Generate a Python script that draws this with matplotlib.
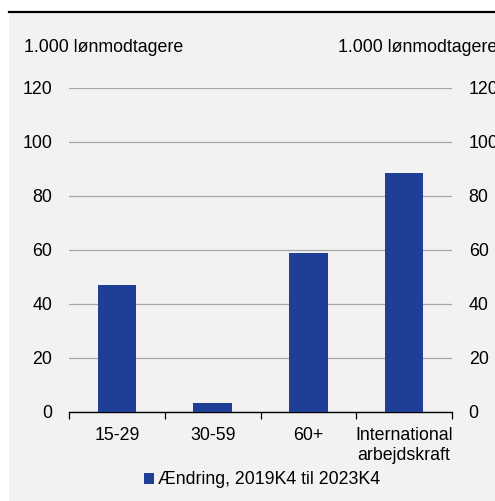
import matplotlib

matplotlib.use("Agg")

import matplotlib.pyplot as plt  # noqa: E402
import numpy as np  # noqa: E402
from matplotlib.patches import Rectangle  # noqa: E402
from matplotlib.lines import Line2D  # noqa: E402

categories = ["15-29", "30-59", "60+", "International\narbejdskraft"]
values = [47.0, 3.4, 59.0, 88.5]
series_label = "Ændring, 2019K4 til 2023K4"
unit_label = "1.000 lønmodtagere"
yticks = [0, 20, 40, 60, 80, 100, 120]

BAR = "#1F3E96"
BG = "#F2F2F2"
plt.rcParams["font.family"] = ["Liberation Sans", "DejaVu Sans"]
FS = 12.8

W, H = 495, 501
fig = plt.figure(figsize=(W / 100, H / 100), dpi=100, facecolor="white")

# grey panel and the black rule under the (cropped) title
fig.patches.append(Rectangle((9 / W, 0), 1 - 9 / W, 1 - 12 / H, transform=fig.transFigure,
                             facecolor=BG, edgecolor="none", zorder=-5))
fig.lines.append(Line2D([9 / W, 1], [1 - 12 / H, 1 - 12 / H], transform=fig.transFigure,
                        color="black", lw=1.6))

left, right = 69 / W, 452 / W
bottom, top = 1 - 412 / H, 1 - 88 / H
ax = fig.add_axes([left, bottom, right - left, top - bottom])
ax.set_facecolor("none")

x = np.arange(len(categories))
ax.bar(x, values, width=0.4, color=BAR, zorder=3, label=series_label)
ax.set_xlim(-0.5, len(categories) - 0.5)
ax.set_ylim(0, 120)
ax.set_yticks(yticks)
ax.yaxis.grid(True, color="#A6A6A6", lw=0.9, zorder=0)
ax.tick_params(axis="y", length=0, labelsize=FS, pad=12)

ax.set_xticks(np.arange(-0.5, len(categories)), minor=False)
ax.set_xticklabels([])
ax.set_xticks(x, minor=True)
ax.set_xticklabels(categories, minor=True, fontsize=FS, linespacing=1.2)
ax.tick_params(axis="x", which="major", length=5, width=0.9, direction="out")
ax.tick_params(axis="x", which="minor", length=0, pad=11)

for side in ("left", "right", "top"):
    ax.spines[side].set_visible(False)
ax.spines["bottom"].set_linewidth(1.0)

ax2 = ax.twinx()
ax2.set_ylim(ax.get_ylim())
ax2.set_yticks(yticks)
ax2.tick_params(axis="y", length=0, labelsize=FS, pad=12)
for side in ("left", "right", "top", "bottom"):
    ax2.spines[side].set_visible(False)

fig.text(24 / W, 1 - 48 / H, unit_label, fontsize=FS, va="center", ha="left")
fig.text(338 / W, 1 - 48 / H, unit_label, fontsize=FS, va="center", ha="left")

fig.legend(loc="center", bbox_to_anchor=(262 / W, 1 - 480 / H), frameon=False,
           fontsize=FS, handlelength=0.6, handleheight=0.6, handletextpad=0.2)

fig.savefig("out.png", dpi=100, facecolor="white")
